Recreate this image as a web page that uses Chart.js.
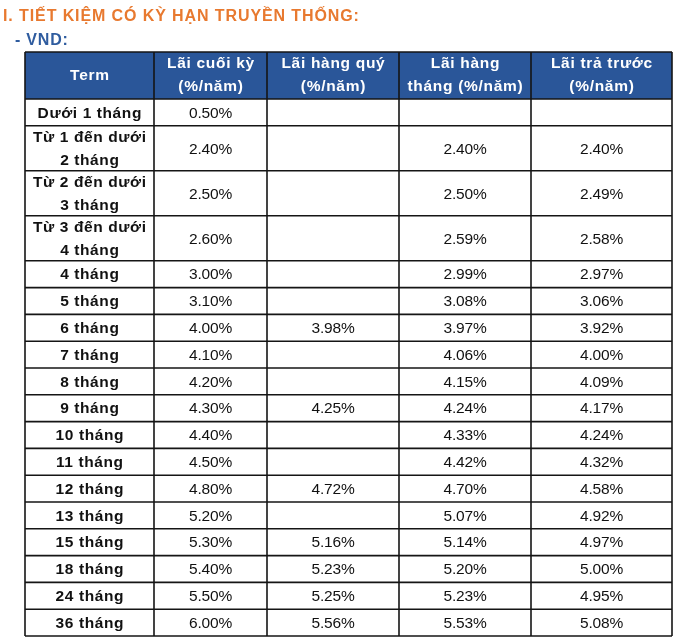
<!DOCTYPE html>
<html>
<head>
<meta charset="utf-8">
<script src="https://cdn.jsdelivr.net/npm/chart.js@4.4.0/dist/chart.umd.min.js"></script>
<style>
  html, body { margin: 0; padding: 0; background: #fff; }
  #wrap { width: 700px; height: 643px; }
</style>
</head>
<body>
<div id="wrap"><canvas id="rateTable" width="700" height="643"></canvas></div>
<script>
const title = 'I. TIẾT KIỆM CÓ KỲ HẠN TRUYỀN THỐNG:';
const subtitle = '- VND:';
const headers = ['Term', 'Lãi cuối kỳ\n(%/năm)', 'Lãi hàng quý\n(%/năm)', 'Lãi hàng\ntháng (%/năm)', 'Lãi trả trước\n(%/năm)'];
const terms = [
  'Dưới 1 tháng', 'Từ 1 đến dưới\n2 tháng', 'Từ 2 đến dưới\n3 tháng', 'Từ 3 đến dưới\n4 tháng',
  '4 tháng', '5 tháng', '6 tháng', '7 tháng', '8 tháng', '9 tháng', '10 tháng', '11 tháng',
  '12 tháng', '13 tháng', '15 tháng', '18 tháng', '24 tháng', '36 tháng'
];
const laiCuoiKy    = [0.50, 2.40, 2.50, 2.60, 3.00, 3.10, 4.00, 4.10, 4.20, 4.30, 4.40, 4.50, 4.80, 5.20, 5.30, 5.40, 5.50, 6.00];
const laiHangQuy   = [null, null, null, null, null, null, 3.98, null, null, 4.25, null, null, 4.72, null, 5.16, 5.23, 5.25, 5.56];
const laiHangThang = [null, 2.40, 2.50, 2.59, 2.99, 3.08, 3.97, 4.06, 4.15, 4.24, 4.33, 4.42, 4.70, 5.07, 5.14, 5.20, 5.23, 5.53];
const laiTraTruoc  = [null, 2.40, 2.49, 2.58, 2.97, 3.06, 3.92, 4.00, 4.09, 4.17, 4.24, 4.32, 4.58, 4.92, 4.97, 5.00, 4.95, 5.08];

// --- layout ---
const colWidths = [129, 113, 132, 132, 141];
const headerHeight = 47;
const rowHeights = terms.map(t => t.includes('\n') ? 45 : 26.8);
const FONT = '"Liberation Sans", Arial, sans-serif';
const HEADER_BG = '#2a5699';
const LINE = '#151515';

const colEdges = [0];
colWidths.forEach(w => colEdges.push(colEdges[colEdges.length - 1] + w));
const rowEdges = [0, headerHeight];
rowHeights.forEach(h => rowEdges.push(rowEdges[rowEdges.length - 1] + h));
const colMid = c => (colEdges[c] + colEdges[c + 1]) / 2;
const rowMid = r => (rowEdges[r + 1] + rowEdges[r + 2]) / 2;

const valueCols = [laiCuoiKy, laiHangQuy, laiHangThang, laiTraTruoc];
const datasets = [{
  label: 'Term',
  data: terms.map((t, i) => ({ x: colMid(0), y: rowMid(i), text: t, bold: true }))
}];
valueCols.forEach((vals, c) => {
  datasets.push({
    label: headers[c + 1],
    data: vals.map((v, i) => v == null ? null : { x: colMid(c + 1), y: rowMid(i), text: v.toFixed(2) + '%' })
      .filter(p => p)
  });
});
datasets.forEach(ds => { ds.pointRadius = 0; ds.pointHoverRadius = 0; });

function drawLines(ctx, text, x, y, gap) {
  const lines = text.split('\n');
  const top = y - (lines.length - 1) * gap / 2;
  lines.forEach((ln, k) => ctx.fillText(ln, x, top + k * gap));
}

const tablePlugin = {
  id: 'tablePlugin',
  beforeDatasetsDraw(chart) {
    const { ctx, scales: { x, y } } = chart;
    ctx.save();
    // header background
    ctx.fillStyle = HEADER_BG;
    ctx.fillRect(x.getPixelForValue(0), y.getPixelForValue(0),
      x.getPixelForValue(colEdges[colEdges.length - 1]) - x.getPixelForValue(0),
      y.getPixelForValue(headerHeight) - y.getPixelForValue(0));
    // grid
    ctx.strokeStyle = LINE;
    ctx.lineWidth = 1.6;
    const left = x.getPixelForValue(0), right = x.getPixelForValue(colEdges[colEdges.length - 1]);
    const top = y.getPixelForValue(0), bottom = y.getPixelForValue(rowEdges[rowEdges.length - 1]);
    rowEdges.forEach(r => {
      const py = y.getPixelForValue(r);
      ctx.beginPath(); ctx.moveTo(left, py); ctx.lineTo(right, py); ctx.stroke();
    });
    colEdges.forEach(c => {
      const px = x.getPixelForValue(c);
      ctx.beginPath(); ctx.moveTo(px, top); ctx.lineTo(px, bottom); ctx.stroke();
    });
    // header text
    ctx.fillStyle = '#ffffff';
    ctx.font = 'bold 15.5px ' + FONT;
    ctx.letterSpacing = '0.7px';
    ctx.textAlign = 'center';
    ctx.textBaseline = 'middle';
    headers.forEach((h, c) => drawLines(ctx, h, x.getPixelForValue(colMid(c)) + 0.4, y.getPixelForValue(headerHeight / 2), 23));
    ctx.restore();
  },
  afterDatasetsDraw(chart) {
    const { ctx } = chart;
    ctx.save();
    ctx.textAlign = 'center';
    ctx.textBaseline = 'middle';
    ctx.fillStyle = '#111';
    chart.data.datasets.forEach((ds, di) => {
      const meta = chart.getDatasetMeta(di);
      meta.data.forEach((pt, i) => {
        const d = ds.data[i];
        ctx.font = d.bold ? 'bold 15.5px ' + FONT : '15.5px ' + FONT;
        ctx.letterSpacing = d.bold ? '0.6px' : '-0.2px';
        drawLines(ctx, d.text, pt.x + (d.bold ? 0.3 : 0), pt.y + 1, 23);
      });
    });
    // title + subtitle
    ctx.textAlign = 'left';
    ctx.textBaseline = 'alphabetic';
    ctx.font = 'bold 16px ' + FONT;
    ctx.letterSpacing = '0.9px';
    ctx.fillStyle = '#e8792f';
    ctx.fillText(title, 3, 21);
    ctx.font = 'bold 16px ' + FONT;
    ctx.letterSpacing = '0.8px';
    ctx.fillStyle = '#2f5c9f';
    ctx.fillText(subtitle, 15, 45);
    ctx.restore();
  }
};

new Chart(document.getElementById('rateTable'), {
  type: 'scatter',
  data: { datasets },
  options: {
    responsive: false,
    animation: false,
    layout: { padding: { left: 25, right: 28, top: 52, bottom: 7 } },
    scales: {
      x: { type: 'linear', min: 0, max: colEdges[colEdges.length - 1], display: false },
      y: { type: 'linear', min: 0, max: rowEdges[rowEdges.length - 1], reverse: true, display: false }
    },
    plugins: { legend: { display: false }, tooltip: { enabled: false } },
    events: []
  },
  plugins: [tablePlugin]
});
</script>
</body>
</html>
